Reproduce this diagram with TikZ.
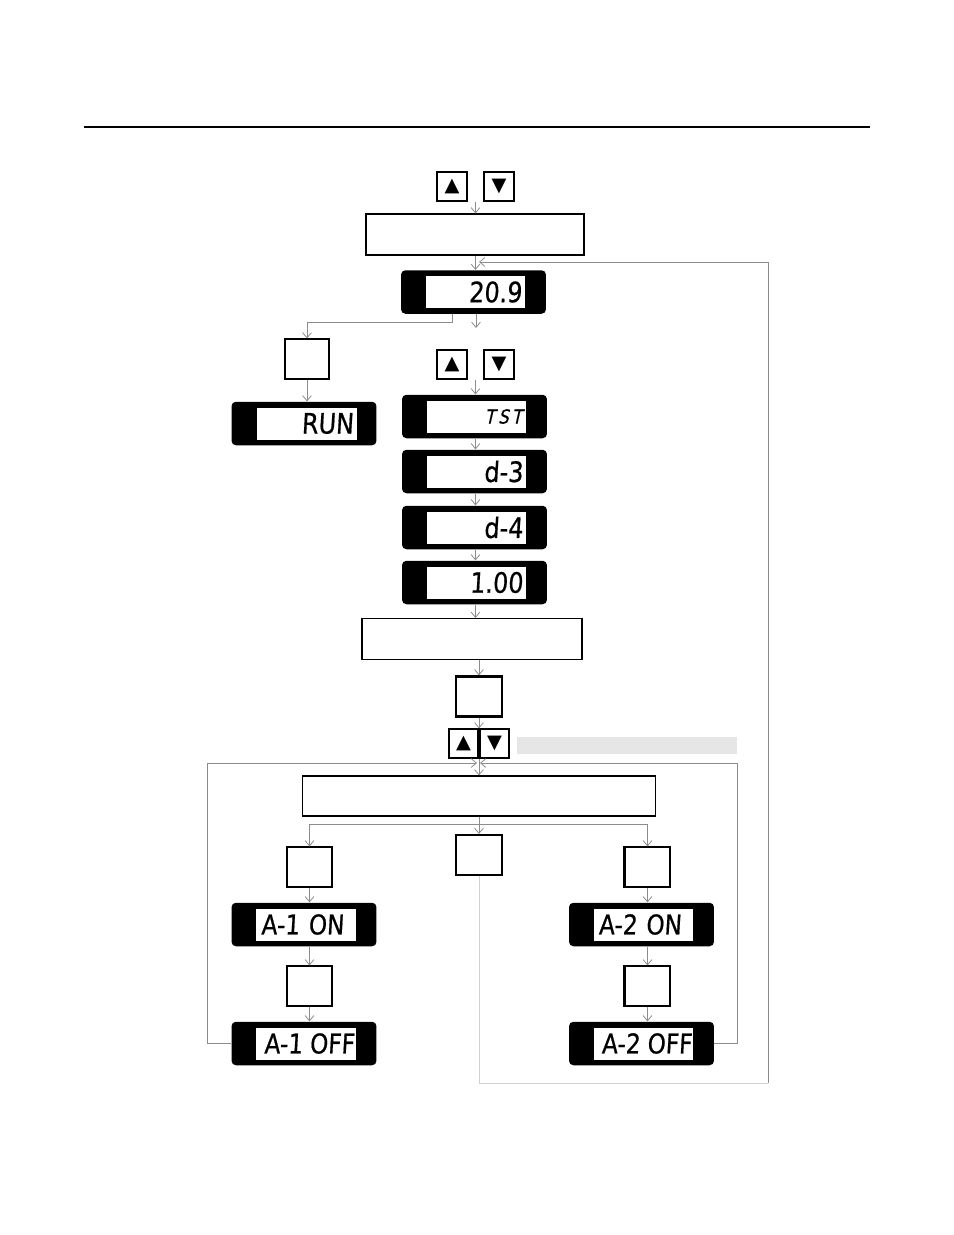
\documentclass[tikz,border=0pt]{standalone}
\usepackage{fontspec}
\usepackage{tikz}
\usetikzlibrary{arrows.meta,positioning,calc}
\newfontfamily\lcdfont{DejaVu Sans}[FakeStretch=0.85,FakeSlant=0.06,FakeBold=0.6]
\newfontfamily\symfont{DejaVu Sans}
\definecolor{wire}{HTML}{8C8C8C}
\definecolor{wirelight}{HTML}{D0D0D0}
\definecolor{barfill}{HTML}{E6E6E6}
\tikzset{
  arr/.style={draw=wire, line width=0.45pt, -{Straight Barb[length=3pt,width=5pt]}},
  wireline/.style={draw=wire, line width=0.45pt},
  btn/.style={draw, line width=0.6pt, minimum width=0.6cm, minimum height=0.58cm,
    inner sep=0pt, font=\symfont\fontsize{11}{11}\selectfont},
  keybox/.style={draw, line width=0.6pt, minimum width=0.9cm, minimum height=0.8cm, inner sep=0pt},
  keythick/.style={keybox, line width=1.2pt},
  msgbox/.style={draw, line width=0.6pt, minimum height=0.82cm, inner sep=0pt},
  lcdbody/.style={fill=black, rounded corners=2.5pt, minimum width=2.9cm,
    minimum height=0.87cm, inner sep=0pt},
  lcdwin/.style={fill=white, minimum height=0.64cm, text width=1.86cm, inner xsep=0.07cm,
    inner ysep=0pt, align=right, font=\lcdfont\fontsize{16}{16}\selectfont},
  alarmwin/.style={lcdwin, text width=1.94cm, inner xsep=0.03cm,
    font=\lcdfont\fontsize{15.5}{16}\selectfont}
}
\begin{document}
\begin{tikzpicture}[x=0.02cm,y=-0.02cm]
\useasboundingbox (0,0) rectangle (954,1235);
\draw[line width=0.6pt] (84,127) -- (870,127);

% top keys and first message
\node[btn] (up1) at (452,186.5) {▲};
\node[btn] (dn1) at (499,186.5) {▼};
\node[msgbox, minimum width=4.36cm] (box1) at (475,234.5) {};
\node[lcdbody] (d209) at (473.5,292) {};
\node[lcdwin] at ($(d209)+(2,0)$) {20.9};

% left branch
\node[keybox, minimum width=0.88cm] (krun) at (307,359) {};
\node[lcdbody] (run) at (304,423.5) {};
\node[lcdwin] at ($(run)+(3,0)$) {RUN\hspace*{2pt}};

% test sequence
\node[btn] (up2) at (452,364.5) {▲};
\node[btn] (dn2) at (499,364.5) {▼};
\node[lcdbody] (tst) at (474.5,416.5) {};
\node[lcdwin, font=\lcdfont\itshape\fontsize{11}{11}\selectfont] at ($(tst)+(2,0)$) {T\,S\,T};
\node[lcdbody] (d3) at (474.5,471.5) {};
\node[lcdwin] at ($(d3)+(2,0)$) {d-3\hspace*{3pt}};
\node[lcdbody] (d4) at (474.5,527.5) {};
\node[lcdwin] at ($(d4)+(2,0)$) {d-4\hspace*{6pt}};
\node[lcdbody] (d100) at (474.5,582.5) {};
\node[lcdwin] at ($(d100)+(2,0)$) {1.00};
\node[msgbox, minimum width=4.4cm] (box2) at (472,639) {};
\node[keythick, minimum width=0.92cm] (kset) at (479,696.5) {};
\node[btn, minimum width=0.58cm] (up3) at (463.5,743.5) {▲};
\node[btn, minimum width=0.58cm] (dn3) at (494.5,743.5) {▼};
\node[fill=barfill, minimum width=4.4cm, minimum height=0.34cm, inner sep=0pt] (bar) at (627,745.5) {};

% alarm menu
\node[msgbox, minimum width=7.08cm, minimum height=0.8cm] (box4) at (479,796) {};
\node[keybox] (k1) at (309.5,867) {};
\node[keythick, minimum width=0.92cm] (kc) at (479,855) {};
\node[keybox] (k2) at (647.5,867) {};
\draw[line width=1.2pt] (k2.north west) -- (k2.south west);
\node[lcdbody] (a1on) at (304,924.5) {};
\node[alarmwin] at ($(a1on)+(2,0)$) {\mbox{A-1\hspace{5pt}ON\hspace*{6pt}}};
\node[keybox] (k1b) at (309.5,986) {};
\node[lcdbody] (a1off) at (304,1043.5) {};
\node[alarmwin] at ($(a1off)+(2,0)$) {\mbox{A-1\hspace{4pt}OFF}};
\node[lcdbody] (a2on) at (641.5,924.5) {};
\node[alarmwin] at ($(a2on)+(2,0)$) {\mbox{A-2\hspace{5pt}ON\hspace*{6pt}}};
\node[keybox] (k2b) at (647.5,986) {};
\draw[line width=1.2pt] (k2b.north west) -- (k2b.south west);
\node[lcdbody] (a2off) at (641.5,1043.5) {};
\node[alarmwin] at ($(a2off)+(2,0)$) {\mbox{A-2\hspace{4pt}OFF}};

\coordinate (m1) at ($(up1.south)!.5!(dn1.south)$);
\coordinate (m2) at ($(up2.south)!.5!(dn2.south)$);
\coordinate (join1) at (479,262);
\coordinate (loopse) at (768,1083);
\coordinate (cont) at (476,328);
\coordinate (tap) at (452,314);
\coordinate (loopnw) at (207,763);
\coordinate (loopne) at (737,763);
\coordinate (join2l) at (477,763);
\coordinate (join2r) at (480,763);

% connectors
\draw[arr] (m1) -- (m1 |- box1.north);
\draw[arr] (m1 |- box1.south) -- (m1 |- d209.north);
\draw[wireline, draw=wirelight] (kc.south) |- (loopse);
\draw[arr] (loopse) |- (join1);
\draw[arr] (tap) -- ++(0,8) -| (krun.north);
\draw[arr] (cont |- d209.south) -- (cont);
\draw[arr] (krun.south) -- (krun.south |- run.north);
\draw[arr] (m2) -- (m2 |- tst.north);
\draw[arr] (m2 |- tst.south) -- (m2 |- d3.north);
\draw[arr] (m2 |- d3.south) -- (m2 |- d4.north);
\draw[arr] (m2 |- d4.south) -- (m2 |- d100.north);
\draw[arr] (m2 |- d100.south) -- (m2 |- box2.north);
\draw[arr] (kset.north |- box2.south) -- (kset.north);
\draw[arr] (kset.south) -- (kset.south |- up3.north);
\draw[arr] (kset.south |- up3.south) -- (kset.south |- box4.north);
\draw[arr] (a1off.west) -| (loopnw) -- (join2l);
\draw[arr] (a2off.east) -| (loopne) -- (join2r);
\draw[arr] (box4.south) -- ++(0,8) -| (k1.north);
\draw[arr] (box4.south) -- ++(0,8) -| (k2.north);
\draw[arr] (box4.south) -- (kc.north);
\draw[arr] (k1.south) -- (k1.south |- a1on.north);
\draw[arr] (k1.south |- a1on.south) -- (k1b.north);
\draw[arr] (k1b.south) -- (k1b.south |- a1off.north);
\draw[arr] (k2.south) -- (k2.south |- a2on.north);
\draw[arr] (k2.south |- a2on.south) -- (k2b.north);
\draw[arr] (k2b.south) -- (k2b.south |- a2off.north);
\end{tikzpicture}
\end{document}
